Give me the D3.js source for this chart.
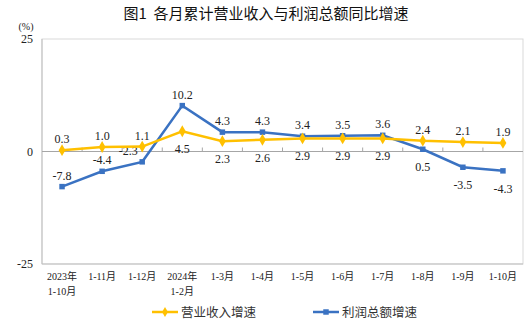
<!DOCTYPE html>
<html><head><meta charset="utf-8">
<script src="https://cdn.jsdelivr.net/npm/d3@7"></script>
<style>body{margin:0;background:#fff}svg{display:block}</style>
</head><body>
<svg id="c" width="532" height="325"></svg>
<script>
const categories = [["2023年","1-10月"],["1-11月"],["1-12月"],["2024年","1-2月"],["1-3月"],["1-4月"],["1-5月"],["1-6月"],["1-7月"],["1-8月"],["1-9月"],["1-10月"]];
const revenue = [0.3,1.0,1.1,4.5,2.3,2.6,2.9,2.9,2.9,2.4,2.1,1.9];
const profit = [-7.8,-4.4,-2.3,10.2,4.3,4.3,3.4,3.5,3.6,0.5,-3.5,-4.3];
const revenuePos = ["a","a","a","b","b","b","b","b","b","a","a","a"];
const profitPos = ["a","a","al","a","a","a","a","a","a","b","b","b"];
const yTicks = [25,0,-25];
const seriesNames = ["营业收入增速","利润总额增速"];

const svg = d3.select("#c");
const serif = "'Liberation Serif','Times New Roman','Noto Sans CJK SC',serif";
const L=42,R=523,T=39,B=264;
const x = d3.scaleBand().domain(d3.range(categories.length)).range([L,R]);
const y = d3.scaleLinear().domain([-25,25]).range([B,T]);
const cx = i => x(i)+x.bandwidth()/2;

svg.append("text").attr("x",266).attr("y",19).attr("text-anchor","middle")
  .attr("font-family","'Noto Sans CJK SC',sans-serif").attr("font-size",15).attr("fill","#111")
  .style("white-space","pre").text("图1\u00a0\u00a0各月累计营业收入与利润总额同比增速");

// frame
svg.append("rect").attr("x",L).attr("y",T).attr("width",R-L).attr("height",B-T)
  .attr("fill","none").attr("stroke","#d9d9d9").attr("stroke-width",1);
svg.append("line").attr("x1",L).attr("x2",L).attr("y1",T).attr("y2",B).attr("stroke","#bfbfbf");
svg.append("line").attr("x1",L).attr("x2",R).attr("y1",B).attr("y2",B).attr("stroke","#bfbfbf");
// zero axis
svg.append("line").attr("x1",L).attr("x2",R).attr("y1",y(0)).attr("y2",y(0)).attr("stroke","#a6a6a6");
d3.range(1,categories.length).forEach(i=>{
  svg.append("line").attr("x1",x(i)).attr("x2",x(i)).attr("y1",y(0)-4).attr("y2",y(0)).attr("stroke","#a6a6a6");
});

// y ticks
yTicks.forEach(t=>{
  svg.append("text").attr("x",33).attr("y",y(t)+4).attr("text-anchor","end")
    .attr("font-family",serif).attr("font-size",12).attr("fill","#222").text(t);
});
svg.append("text").attr("x",26).attr("y",30).attr("text-anchor","middle")
  .attr("font-family",serif).attr("font-size",10).attr("fill","#222").text("(%)");

// x labels
categories.forEach((c,i)=>{
  c.forEach((s,j)=>{
    svg.append("text").attr("x",cx(i)).attr("y",280+j*15).attr("text-anchor","middle")
      .attr("font-family",serif).attr("font-size",10).attr("fill","#222").text(s);
  });
});

const line = d3.line().x((d,i)=>cx(i)).y(d=>y(d));
const cols = ["#FFC000","#3A72C2"];

function drawSeries(data,col,shape,pos){
  svg.append("path").datum(data).attr("d",line).attr("fill","none").attr("stroke",col).attr("stroke-width",2.5);
  data.forEach((d,i)=>{
    svg.append("path").attr("transform",`translate(${cx(i)},${y(d)})`)
      .attr("d",d3.symbol().type(shape).size(shape===d3.symbolDiamond?40:30)()).attr("fill",col);
  });
  data.forEach((d,i)=>{
    const p = pos[i];
    svg.append("text").attr("x",cx(i)+(p==="al"?-14:0)).attr("y",p==="b"?y(d)+22:y(d)-7).attr("text-anchor","middle")
      .attr("font-family",serif).attr("font-size",12).attr("fill","#222").text(d.toFixed(1));
  });
}
drawSeries(profit,cols[1],d3.symbolSquare,profitPos);
drawSeries(revenue,cols[0],d3.symbolDiamond,revenuePos);

// legend
const lg = [[152,cols[0],d3.symbolDiamond,seriesNames[0]],[313,cols[1],d3.symbolSquare,seriesNames[1]]];
lg.forEach(([lx,col,shape,name])=>{
  svg.append("line").attr("x1",lx).attr("x2",lx+26).attr("y1",312).attr("y2",312).attr("stroke",col).attr("stroke-width",2.5);
  svg.append("path").attr("transform",`translate(${lx+13},312)`).attr("d",d3.symbol().type(shape).size(30)()).attr("fill",col);
  svg.append("text").attr("x",lx+29).attr("y",317).attr("font-family","'Noto Sans CJK SC',sans-serif")
    .attr("font-size",12.5).attr("fill","#333").text(name);
});
</script>
</body></html>
